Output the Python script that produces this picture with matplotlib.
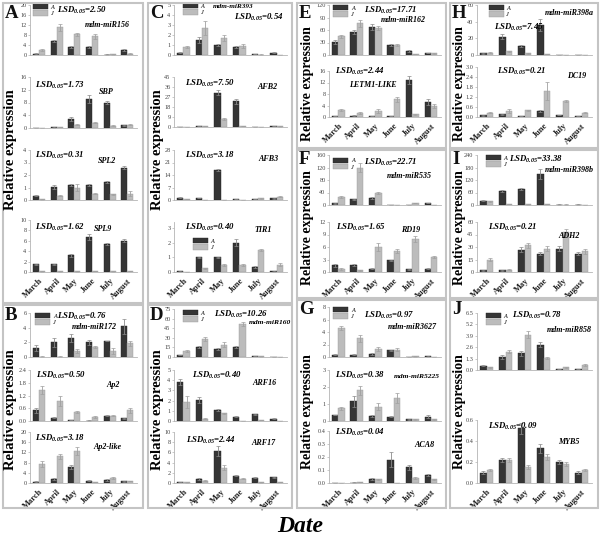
import matplotlib
matplotlib.use('Agg')
import matplotlib.pyplot as plt
from matplotlib.patches import Patch, Rectangle
import numpy as np

plt.rcParams['font.family'] = ['Liberation Serif', 'DejaVu Serif']
plt.rcParams['mathtext.fontset'] = 'custom'
plt.rcParams['mathtext.rm'] = 'Liberation Serif:bold:italic'
plt.rcParams['mathtext.it'] = 'Liberation Serif:bold:italic'
plt.rcParams['mathtext.bf'] = 'Liberation Serif:bold:italic'

months = ["March", "April", "May", "June", "July", "August"]

# ---------------- data (A = adult, J = juvenile) ----------------
miR156_A = [0.5, 5.8, 3.3, 3.3, 0.2, 2.0]
miR156_J = [2.0, 11.2, 8.3, 7.6, 0.3, 0.5]
miR156_eA = [0.2, 0.4, 0.5, 0.3, 0.1, 0.4]
miR156_eJ = [0.5, 1.4, 0.5, 1.0, 0.1, 0.2]

SBP_A = [0.1, 0.2, 2.7, 9.2, 8.0, 0.8]
SBP_J = [0.1, 0.3, 1.0, 1.7, 0.7, 1.0]
SBP_eA = [0.05, 0.1, 0.6, 1.2, 0.5, 0.2]
SBP_eJ = [0.05, 0.1, 0.2, 0.2, 0.1, 0.1]

SPL2_A = [0.35, 1.05, 1.2, 1.2, 1.45, 2.6]
SPL2_J = [0.05, 0.35, 1.0, 0.5, 0.45, 0.5]
SPL2_eA = [0.05, 0.15, 0.1, 0.05, 0.05, 0.15]
SPL2_eJ = [0.02, 0.05, 0.3, 0.05, 0.05, 0.2]

SPL9_A = [1.5, 1.5, 3.2, 6.8, 5.3, 6.0]
SPL9_J = [0.1, 0.1, 0.1, 0.15, 0.1, 0.2]
SPL9_eA = [0.1, 0.1, 0.3, 0.6, 0.2, 0.3]
SPL9_eJ = [0.02, 0.02, 0.02, 0.03, 0.02, 0.03]

miR172_A = [1.2, 2.0, 2.6, 2.0, 2.2, 4.2]
miR172_J = [0.05, 0.05, 0.8, 1.35, 0.8, 1.85]
miR172_eA = [0.4, 0.6, 0.6, 0.3, 0.05, 1.0]
miR172_eJ = [0.02, 0.02, 0.3, 0.1, 0.4, 0.3]

Ap2_A = [0.5, 0.15, 0.05, 0.02, 0.25, 0.12]
Ap2_J = [1.45, 0.95, 0.42, 0.2, 0.25, 0.5]
Ap2_eA = [0.1, 0.03, 0.02, 0.01, 0.03, 0.02]
Ap2_eJ = [0.2, 0.25, 0.05, 0.05, 0.02, 0.1]

Ap2like_A = [0.5, 1.6, 6.2, 0.9, 1.2, 0.6]
Ap2like_J = [7.5, 10.5, 12.5, 0.4, 1.9, 0.8]
Ap2like_eA = [0.1, 0.4, 0.8, 0.2, 0.3, 0.1]
Ap2like_eJ = [1.2, 1.0, 1.5, 0.1, 0.3, 0.1]

miR393_A = [0.25, 1.55, 1.0, 0.85, 0.1, 0.25]
miR393_J = [0.8, 2.7, 1.7, 0.9, 0.05, 0.02]
miR393_eA = [0.05, 0.3, 0.1, 0.1, 0.02, 0.05]
miR393_eJ = [0.1, 0.7, 0.3, 0.2, 0.02, 0.01]

AFB2_A = [0.1, 0.6, 31, 23, 0.2, 0.8]
AFB2_J = [0.1, 0.8, 7, 0.8, 0.1, 0.5]
AFB2_eA = [0.05, 0.1, 2.5, 2.5, 0.1, 0.1]
AFB2_eJ = [0.05, 0.1, 1.0, 0.1, 0.05, 0.1]

AFB3_A = [1.3, 1.2, 17, 0.5, 0.5, 1.0]
AFB3_J = [0.5, 0.1, 0.1, 0.1, 1.0, 1.8]
AFB3_eA = [0.2, 0.2, 0.6, 0.1, 0.1, 0.2]
AFB3_eJ = [0.1, 0.02, 0.02, 0.02, 0.2, 0.3]

TIR1_A = [0.05, 1.0, 1.0, 2.0, 0.35, 0.05]
TIR1_J = [0.02, 0.25, 0.47, 0.47, 1.5, 0.5]
TIR1_eA = [0.02, 0.05, 0.05, 0.25, 0.05, 0.02]
TIR1_eJ = [0.01, 0.05, 0.05, 0.05, 0.05, 0.1]

miR160_A = [3, 15.5, 12.5, 16, 1.5, 0.5]
miR160_J = [9.5, 28, 19.5, 52, 1.0, 0.5]
miR160_eA = [0.5, 1, 1.2, 1.5, 0.3, 0.1]
miR160_eJ = [1, 2.5, 3.5, 3, 0.3, 0.1]

ARF16_A = [3.8, 2.05, 1.05, 0.4, 0.65, 0.2]
ARF16_J = [1.9, 0.2, 0.75, 0.0, 0.1, 0.0]
ARF16_eA = [0.3, 0.3, 0.1, 0.05, 0.05, 0.05]
ARF16_eJ = [0.6, 0.05, 0.05, 0.0, 0.02, 0.0]

ARF17_A = [0.2, 0.8, 6.3, 1.4, 1.0, 1.1]
ARF17_J = [0.1, 0.4, 3.0, 0.8, 0.1, 0.2]
ARF17_eA = [0.05, 0.15, 1.0, 0.1, 0.1, 0.1]
ARF17_eJ = [0.02, 0.1, 0.5, 0.1, 0.02, 0.05]

miR162_A = [32, 55, 67, 24, 10, 5]
miR162_J = [45, 76, 65, 24, 2, 4]
miR162_eA = [5, 4, 8, 2, 2, 1]
miR162_eJ = [4, 9, 5, 3, 0.5, 1]

LETM1_A = [0.4, 0.5, 0.3, 0.3, 12.8, 5.2]
LETM1_J = [2.4, 1.4, 2.1, 6.2, 1.0, 3.9]
LETM1_eA = [0.1, 0.1, 0.1, 0.05, 1.4, 1.0]
LETM1_eJ = [0.3, 0.2, 0.8, 0.9, 0.2, 0.7]

miR535_A = [5, 18, 22, 0.5, 0.5, 7]
miR535_J = [27, 120, 38, 0.5, 6, 1]
miR535_eA = [1, 2, 3, 0.2, 0.2, 1]
miR535_eJ = [3, 15, 3, 0.2, 1, 0.2]

RD19_A = [1.6, 1.7, 0.8, 2.8, 0.7, 0.8]
RD19_J = [0.7, 0.4, 6.0, 5.1, 8.0, 3.6]
RD19_eA = [0.4, 0.2, 0.1, 0.2, 0.1, 0.1]
RD19_eJ = [0.2, 0.05, 0.9, 0.5, 0.7, 0.3]

miR3627_A = [0.4, 0.4, 0.5, 1.1, 0.05, 0.1]
miR3627_J = [4.7, 3.0, 1.3, 1.2, 0.1, 0.05]
miR3627_eA = [0.05, 0.05, 0.1, 0.1, 0.02, 0.02]
miR3627_eJ = [0.3, 0.6, 0.3, 0.3, 0.02, 0.01]

miR5225_A = [0.35, 1.15, 0.3, 0.25, 0.1, 0.25]
miR5225_J = [0.75, 1.8, 0.85, 1.35, 0.1, 0.1]
miR5225_eA = [0.02, 0.35, 0.05, 0.02, 0.02, 0.1]
miR5225_eJ = [0.08, 0.25, 0.2, 0.3, 0.02, 0.02]

ACA8_A = [0.002, 0.003, 0.03, 0.18, 0.12, 0.06]
ACA8_J = [0.002, 0.007, 0.027, 0.002, 0.04, 0.028]
ACA8_eA = [0.001, 0.001, 0.005, 0.06, 0.02, 0.008]
ACA8_eJ = [0.001, 0.002, 0.004, 0.001, 0.008, 0.006]

miR398a_A = [2, 22, 11, 36, 0.5, 0.5]
miR398a_J = [3, 4.5, 2, 1.5, 0.2, 0.2]
miR398a_eA = [0.3, 3, 1, 7, 0.1, 0.1]
miR398a_eJ = [0.3, 0.5, 0.3, 0.3, 0.05, 0.05]

DC19_A = [0.1, 0.17, 0.05, 0.38, 0.12, 0.05]
DC19_J = [0.27, 0.37, 0.42, 1.55, 0.95, 0.27]
DC19_eA = [0.02, 0.02, 0.01, 0.06, 0.02, 0.01]
DC19_eJ = [0.03, 0.1, 0.03, 0.55, 0.05, 0.05]

miR398b_A = [20, 68, 75, 148, 2, 2]
miR398b_J = [18, 4, 3, 5, 2, 1]
miR398b_eA = [2, 5, 5, 25, 0.5, 0.5]
miR398b_eJ = [2, 1, 1, 1, 0.5, 0.3]

ADH2_A = [2, 2, 27, 22, 28, 22]
ADH2_J = [15, 3, 32, 28, 48, 25]
ADH2_eA = [0.5, 0.5, 3, 2, 3, 2]
ADH2_eJ = [2, 0.5, 3, 3, 4, 3]

miR858_A = [0.5, 1.5, 1.9, 2.9, 0.1, 0.1]
miR858_J = [0.3, 2.1, 4.0, 1.4, 0.3, 0.6]
miR858_eA = [0.05, 0.2, 0.3, 0.3, 0.02, 0.02]
miR858_eJ = [0.05, 0.2, 0.4, 0.1, 0.05, 0.1]

MYB5_A = [0.1, 0.22, 0.52, 0.33, 0.2, 0.1]
MYB5_J = [0.12, 0.22, 0.15, 0.25, 0.18, 0.12]
MYB5_eA = [0.01, 0.02, 0.05, 0.04, 0.02, 0.01]
MYB5_eJ = [0.01, 0.02, 0.02, 0.03, 0.02, 0.01]

# ---------------- layout helpers (pixel based) ----------------
W, H = 600, 540
fig = plt.figure(figsize=(6, 5.4), dpi=100)
fig.patch.set_facecolor('white')

def frect(x0, x1, ytop, ybot):
    return [x0 / W, 1 - ybot / H, (x1 - x0) / W, (ybot - ytop) / H]

DARK = '#353535'
LIGHT = '#bcbcbc'
AXC = '#b4b4b4'

COLX = {1: (30, 137), 2: (174, 287), 3: (329, 441), 4: (477, 592)}

def draw(col, ytop, ybot, A, J, eA, eJ, ticks, fmt, gene, gpos, lsd, lpos,
         legend=None, months_on=False, ylim_top=None, gsize=5.8):
    x0, x1 = COLX[col]
    ax = fig.add_axes(frect(x0, x1, ytop, ybot))
    x = np.arange(len(months))
    w = 0.34
    ax.bar(x - w / 2, A, w, color=DARK, edgecolor='#222222', linewidth=0.3,
           yerr=eA, error_kw=dict(ecolor='#8a8a8a', elinewidth=0.6, capsize=1.2, capthick=0.5))
    ax.bar(x + w / 2, J, w, color=LIGHT, edgecolor='#9a9a9a', linewidth=0.3,
           yerr=eJ, error_kw=dict(ecolor='#a0a0a0', elinewidth=0.6, capsize=1.2, capthick=0.5))
    ax.set_xlim(-0.5, 5.55)
    ax.set_ylim(0, ylim_top if ylim_top else ticks[-1])
    ax.set_yticks(ticks)
    ax.set_yticklabels([fmt.format(t) for t in ticks], fontsize=4.5, color='#444444')
    for s in ['top', 'right']:
        ax.spines[s].set_visible(False)
    for s in ['left', 'bottom']:
        ax.spines[s].set_color(AXC)
        ax.spines[s].set_linewidth(0.6)
    ax.tick_params(axis='y', length=1.5, width=0.5, color=AXC, pad=1)
    ax.tick_params(axis='x', length=0)
    ax.patch.set_alpha(0)
    if months_on:
        ax.set_xticks(x)
        ax.set_xticklabels(months, rotation=45, ha='right', rotation_mode='anchor',
                           fontsize=6, fontweight='bold', color='#222222')
    else:
        ax.set_xticks([])
    ax.text(gpos[0], gpos[1], gene, transform=ax.transAxes, fontsize=gsize,
            fontweight='bold', fontstyle='italic', ha='center', va='center')
    ax.text(lpos[0], lpos[1], 'LSD$_{0.05}$=' + lsd, transform=ax.transAxes,
            fontsize=6.3, fontweight='bold', fontstyle='italic', ha='left', va='center')
    if legend is not None:
        h = [Patch(facecolor=DARK, edgecolor='#222222', linewidth=0.3),
             Patch(facecolor=LIGHT, edgecolor='#9a9a9a', linewidth=0.3)]
        ax.legend(h, ['A', 'J'], loc='upper left', bbox_to_anchor=legend,
                  frameon=False, prop=dict(size=4.5, style='italic', family='Liberation Serif'),
                  handlelength=2.4, handleheight=0.9, labelspacing=0.1,
                  handletextpad=0.4, borderpad=0.0, borderaxespad=0.0)
    return ax

# panel boxes
boxes = {'A': (3, 3, 143, 303), 'B': (3, 305, 143, 508),
         'C': (148, 3, 292, 303), 'D': (148, 305, 292, 508),
         'E': (297, 3, 446, 148), 'F': (297, 150, 446, 298), 'G': (297, 300, 446, 508),
         'H': (450, 3, 598, 148), 'I': (450, 150, 598, 298), 'J': (450, 300, 598, 508)}
for k, (bx0, by0, bx1, by1) in boxes.items():
    fig.patches.append(Rectangle((bx0 / W, 1 - by1 / H), (bx1 - bx0) / W, (by1 - by0) / H,
                                 transform=fig.transFigure, fill=False,
                                 edgecolor='#c4c4c4', linewidth=1.5, zorder=0))
    fig.text((bx0 + 2) / W, 1 - (by0 + 10) / H, k, fontsize=13.5, fontweight='bold',
             ha='left', va='center', color='#111111')

# ylabels
for (xp, yp, fs) in [(11, 150, 10.5), (11, 410, 10.5), (157, 150, 10.5), (157, 410, 10.5),
                     (307, 84, 10), (307, 228, 10), (307, 412, 10),
                     (459, 84, 10), (459, 228, 10), (459, 412, 10)]:
    fig.text(xp / W, 1 - yp / H, 'Relative expression', rotation=90, fontsize=fs,
             fontweight='bold', ha='center', va='center')

fig.text(300 / W, 1 - 527 / H, 'Date', fontsize=17, fontweight='bold', fontstyle='italic',
         ha='center', va='center')

i4 = '{:g}'
f1 = '{:.1f}'
# Panel A
draw(1, 5, 55, miR156_A, miR156_J, miR156_eA, miR156_eJ, [0, 4, 8, 12, 16, 20], i4,
     'mdm-miR156', (0.72, 0.6), '2.50', (0.25, 0.9), legend=(0.03, 1.02))
draw(1, 77, 128, SBP_A, SBP_J, SBP_eA, SBP_eJ, [0, 4, 8, 12, 16], i4,
     'SBP', (0.71, 0.7), '1.73', (0.05, 0.84))
draw(1, 150, 200, SPL2_A, SPL2_J, SPL2_eA, SPL2_eJ, [0, 1, 2, 3, 4], i4,
     'SPL2', (0.72, 0.78), '0.31', (0.05, 0.9))
draw(1, 220, 272, SPL9_A, SPL9_J, SPL9_eA, SPL9_eJ, [0, 2, 4, 6, 8, 10], i4,
     'SPL9', (0.68, 0.83), '1.62', (0.05, 0.85), months_on=True)
# Panel B
draw(1, 313, 357, miR172_A, miR172_J, miR172_eA, miR172_eJ, [0, 2, 4, 6], i4,
     'mdm-miR172', (0.6, 0.68), '0.76', (0.25, 0.93), legend=(0.05, 1.0))
draw(1, 370, 421, Ap2_A, Ap2_J, Ap2_eA, Ap2_eJ, [0, 0.6, 1.2, 1.8, 2.4], f1,
     'Ap2', (0.78, 0.7), '0.50', (0.06, 0.9))
draw(1, 432, 483, Ap2like_A, Ap2like_J, Ap2like_eA, Ap2like_eJ, [0, 4, 8, 12, 16, 20], i4,
     'Ap2-like', (0.72, 0.7), '3.18', (0.05, 0.88), months_on=True)
# Panel C
draw(2, 5, 55, miR393_A, miR393_J, miR393_eA, miR393_eJ, [0, 1, 2, 3, 4, 5], i4,
     'mdm-miR393', (0.52, 0.97), '0.54', (0.53, 0.76), legend=(0.08, 1.04), gsize=5.2)
draw(2, 77, 127, AFB2_A, AFB2_J, AFB2_eA, AFB2_eJ, [0, 9, 18, 27, 36, 45], i4,
     'AFB2', (0.83, 0.8), '7.50', (0.1, 0.88))
draw(2, 150, 200, AFB3_A, AFB3_J, AFB3_eA, AFB3_eJ, [0, 7, 14, 21, 28], i4,
     'AFB3', (0.84, 0.82), '3.18', (0.1, 0.9))
draw(2, 222, 272, TIR1_A, TIR1_J, TIR1_eA, TIR1_eJ, [0, 1, 2, 3], i4,
     'TIR1', (0.79, 0.84), '0.40', (0.1, 0.9), legend=(0.17, 0.68), months_on=True,
     ylim_top=3.4)
# Panel D
draw(2, 309, 357, miR160_A, miR160_J, miR160_eA, miR160_eJ, [0, 15, 30, 45, 60, 75], i4,
     'mdm-miR160', (0.85, 0.72), '10.26', (0.35, 0.88), legend=(0.08, 0.98), gsize=5.4)
draw(2, 370, 421, ARF16_A, ARF16_J, ARF16_eA, ARF16_eJ, [0, 1, 2, 3, 4, 5], i4,
     'ARF16', (0.8, 0.75), '0.40', (0.16, 0.9))
draw(2, 432, 483, ARF17_A, ARF17_J, ARF17_eA, ARF17_eJ, [0, 2, 4, 6, 8, 10], i4,
     'ARF17', (0.79, 0.78), '2.44', (0.11, 0.84), months_on=True)
# Panel E
draw(3, 5, 55, miR162_A, miR162_J, miR162_eA, miR162_eJ, [0, 30, 60, 90, 120], i4,
     'mdm-miR162', (0.66, 0.7), '17.71', (0.31, 0.9), legend=(0.04, 1.0))
draw(3, 71, 117, LETM1_A, LETM1_J, LETM1_eA, LETM1_eJ, [0, 4, 8, 12, 16], i4,
     'LETM1-LIKE', (0.39, 0.7), '2.44', (0.05, 1.0), months_on=True)
# Panel F
draw(3, 155, 205, miR535_A, miR535_J, miR535_eA, miR535_eJ, [0, 40, 80, 120, 160], i4,
     'mdm-miR535', (0.72, 0.58), '22.71', (0.31, 0.86), legend=(0.04, 0.95))
draw(3, 222, 272, RD19_A, RD19_J, RD19_eA, RD19_eJ, [0, 3, 6, 9, 12], i4,
     'RD19', (0.73, 0.84), '1.65', (0.06, 0.9), months_on=True)
# Panel G
draw(3, 307, 357, miR3627_A, miR3627_J, miR3627_eA, miR3627_eJ, [0, 2, 4, 6, 8], i4,
     'mdm-miR3627', (0.74, 0.6), '0.97', (0.31, 0.84), legend=(0.04, 1.0))
draw(3, 370, 421, miR5225_A, miR5225_J, miR5225_eA, miR5225_eJ, [0, 1, 2, 3], i4,
     'mdm-miR5225', (0.78, 0.88), '0.38', (0.05, 0.9), gsize=5.4)
draw(3, 431, 483, ACA8_A, ACA8_J, ACA8_eA, ACA8_eJ, [0, 0.1, 0.2, 0.3, 0.4], f1,
     'ACA8', (0.85, 0.73), '0.04', (0.05, 0.97), months_on=True)
# Panel H
draw(4, 5, 55, miR398a_A, miR398a_J, miR398a_eA, miR398a_eJ, [0, 20, 40, 60], i4,
     'mdm-miR398a', (0.8, 0.84), '7.45', (0.15, 0.56), legend=(0.1, 1.0))
draw(4, 67, 117, DC19_A, DC19_J, DC19_eA, DC19_eJ, [0, 0.6, 1.2, 1.8, 2.4, 3.0], f1,
     'DC19', (0.87, 0.82), '0.21', (0.17, 0.92), months_on=True)
# Panel I
draw(4, 155, 205, miR398b_A, miR398b_J, miR398b_eA, miR398b_eJ, [0, 60, 120, 180, 240], i4,
     'mdm-miR398b', (0.8, 0.7), '33.38', (0.28, 0.92), legend=(0.08, 1.0))
draw(4, 222, 272, ADH2_A, ADH2_J, ADH2_eA, ADH2_eJ, [0, 15, 30, 45, 60], i4,
     'ADH2', (0.8, 0.72), '0.21', (0.1, 0.9), months_on=True)
# Panel J
draw(4, 313, 370, miR858_A, miR858_J, miR858_eA, miR858_eJ, [0, 1.3, 2.6, 3.9, 5.2, 6.5], f1,
     'mdm-miR858', (0.8, 0.7), '0.78', (0.3, 0.95), legend=(0.08, 1.0))
draw(4, 420, 483, MYB5_A, MYB5_J, MYB5_eA, MYB5_eJ, [0, 0.2, 0.4, 0.6], f1,
     'MYB5', (0.8, 0.65), '0.09', (0.1, 0.9), months_on=True)

fig.savefig('out.png', dpi=100, facecolor='white')
